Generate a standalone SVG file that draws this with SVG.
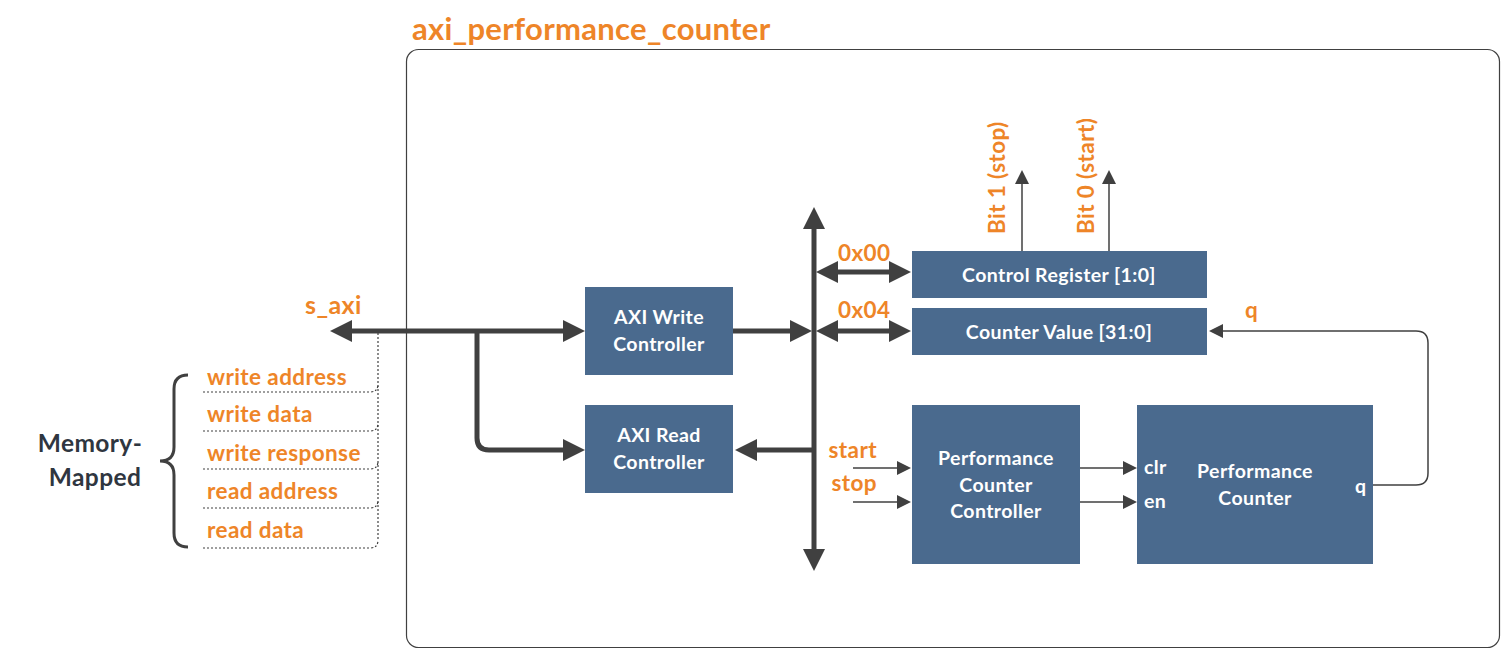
<svg xmlns="http://www.w3.org/2000/svg" width="1502" height="650" viewBox="0 0 1502 650">
<defs>
<style>
text{font-family:Lato,"Liberation Sans",sans-serif;font-weight:700;letter-spacing:0.4px}
.or{fill:#EE8528;font-size:22.5px}
.wt{fill:#FFFFFF;font-size:19.5px;text-anchor:middle}
.wl{fill:#FFFFFF;font-size:19.5px}
.box{fill:#4A6A8E}
.thick{stroke:#404040;stroke-width:5;fill:none}
.thin{stroke:#404040;stroke-width:1.5;fill:none}
.dot{stroke:#404040;stroke-width:1.2;fill:none;stroke-dasharray:2 2}
</style>
<marker id="ah" markerUnits="userSpaceOnUse" markerWidth="22" markerHeight="22" refX="3" refY="11" orient="auto-start-reverse"><path d="M0,0 L22,11 L0,22 Z" fill="#404040"/></marker>
<marker id="as" markerUnits="userSpaceOnUse" markerWidth="14" markerHeight="14" refX="2" refY="7" orient="auto-start-reverse"><path d="M0,0 L14,7 L0,14 Z" fill="#404040"/></marker>
</defs>
<rect width="1502" height="650" fill="#FFFFFF"/>
<g id="container">
<rect x="406.5" y="49.5" width="1093" height="598" rx="12" fill="none" stroke="#404040" stroke-width="1.2"/>
<text x="412" y="40" style="fill:#EE8528;font-size:31px;letter-spacing:0.3px">axi_performance_counter</text>
</g>
<g id="memory-mapped">
<text x="90" y="452" text-anchor="middle" style="fill:#2F3640;font-size:24.5px">Memory-</text>
<text x="95" y="486" text-anchor="middle" style="fill:#2F3640;font-size:24.5px">Mapped</text>
<path d="M188,375 Q174,375 174,389 V447 Q174,461 160,461 Q174,461 174,475 V533 Q174,547 188,547" stroke="#404040" stroke-width="3" fill="none"/>
<text class="or" x="207" y="385">write address</text>
<text class="or" x="207" y="422">write data</text>
<text class="or" x="207" y="461">write response</text>
<text class="or" x="207" y="499">read address</text>
<text class="or" x="207" y="538">read data</text>
<path class="dot" d="M378,333 V540"/>
<path class="dot" d="M203,392 H370 Q378,392 378,384"/>
<path class="dot" d="M203,431 H370 Q378,431 378,423"/>
<path class="dot" d="M203,469 H370 Q378,469 378,461"/>
<path class="dot" d="M203,508 H370 Q378,508 378,500"/>
<path class="dot" d="M203,548 H370 Q378,548 378,540"/>
<text class="or" x="305" y="314" style="font-size:25px">s_axi</text>
</g>
<g id="axi-write">
<rect class="box" x="585" y="287" width="148" height="88"/>
<text class="wt" x="659" y="324">AXI Write</text>
<text class="wt" x="659" y="351">Controller</text>
</g>
<g id="axi-read">
<rect class="box" x="585" y="405" width="148" height="88"/>
<text class="wt" x="659" y="442">AXI Read</text>
<text class="wt" x="659" y="469">Controller</text>
</g>
<g id="control-register">
<rect class="box" x="912" y="251" width="295" height="47"/>
<text class="wt" x="1059" y="282">Control Register [1:0]</text>
</g>
<g id="counter-value">
<rect class="box" x="912" y="308" width="295" height="47"/>
<text class="wt" x="1059" y="339">Counter Value [31:0]</text>
</g>
<g id="perf-controller">
<rect class="box" x="912" y="405" width="168" height="159"/>
<text class="wt" x="996" y="465">Performance</text>
<text class="wt" x="996" y="492">Counter</text>
<text class="wt" x="996" y="518">Controller</text>
</g>
<g id="perf-counter">
<rect class="box" x="1137" y="405" width="236" height="159"/>
<text class="wt" x="1255" y="478">Performance</text>
<text class="wt" x="1255" y="505">Counter</text>
<text class="wl" x="1144" y="474">clr</text>
<text class="wl" x="1144" y="508">en</text>
<text class="wl" x="1355" y="493">q</text>
</g>
<g id="connectors">
<path class="thick" d="M349,331 H566" marker-start="url(#ah)" marker-end="url(#ah)"/>
<path class="thick" d="M477,331 V438 Q477,450 489,450 H566" marker-end="url(#ah)"/>
<path class="thick" d="M733,331 H793" marker-end="url(#ah)"/>
<path class="thick" d="M814,450 H754" marker-end="url(#ah)"/>
<path class="thick" d="M814,226 V552" marker-start="url(#ah)" marker-end="url(#ah)"/>
<path class="thick" d="M835,272 H892" marker-start="url(#ah)" marker-end="url(#ah)"/>
<path class="thick" d="M835,331 H892" marker-start="url(#ah)" marker-end="url(#ah)"/>
<path class="thin" d="M1022,251 V182" marker-end="url(#as)"/>
<path class="thin" d="M1109,251 V182" marker-end="url(#as)"/>
<path class="thin" d="M853,468 H899" marker-end="url(#as)"/>
<path class="thin" d="M853,502 H899" marker-end="url(#as)"/>
<path class="thin" d="M1080,468 H1125" marker-end="url(#as)"/>
<path class="thin" d="M1080,502 H1125" marker-end="url(#as)"/>
<path class="thin" d="M1373,485 H1416 Q1428,485 1428,473 V343 Q1428,331 1416,331 H1221" marker-end="url(#as)"/>
<text class="or" x="838" y="261">0x00</text>
<text class="or" x="838" y="318">0x04</text>
<text class="or" x="1245" y="318">q</text>
<text class="or" x="877" y="458" text-anchor="end">start</text>
<text class="or" x="877" y="491" text-anchor="end">stop</text>
<text class="or" transform="translate(1005,234) rotate(-90)">Bit 1 (stop)</text>
<text class="or" transform="translate(1094,234) rotate(-90)">Bit 0 (start)</text>
</g>
</svg>
